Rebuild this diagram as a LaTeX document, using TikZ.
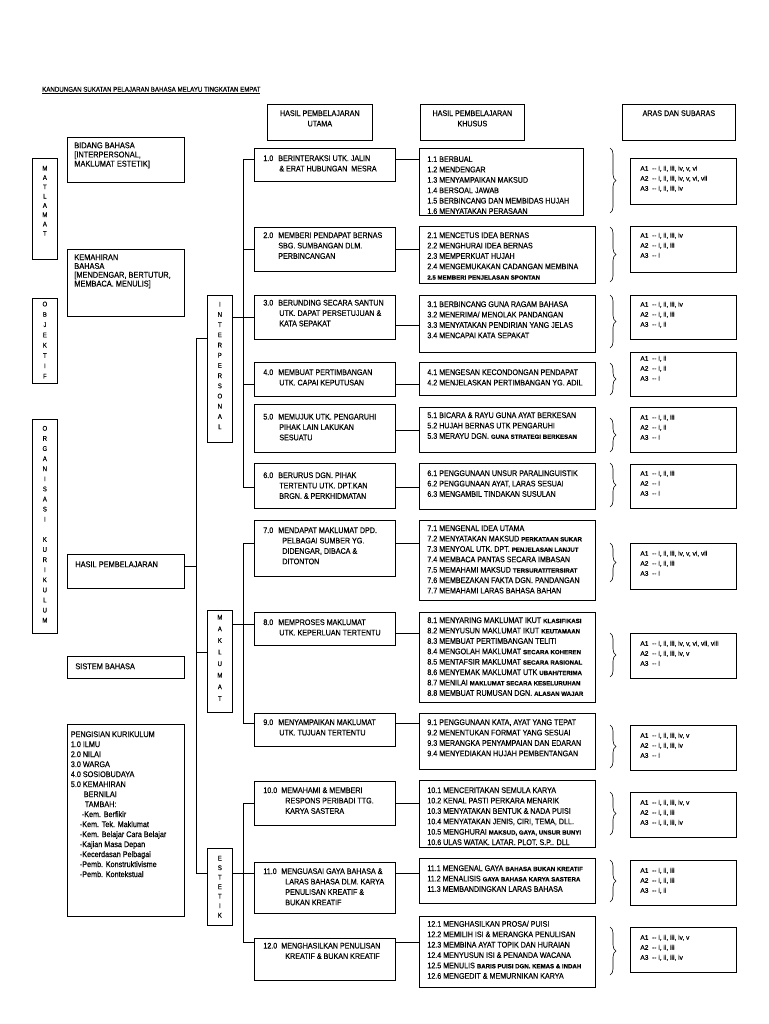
\documentclass[tikz,border=0pt]{standalone}
\usepackage{fontspec}
\setmainfont{Liberation Sans}[FakeStretch=0.88,FakeBold=0.35]
\newfontfamily\arasfont{Liberation Sans}[FakeBold=0.35]
\usetikzlibrary{decorations.pathreplacing}

% top-aligned text block: width, height, left pad, top pad, text
\newcommand{\bx}[5]{\begin{minipage}[t][#2pt][t]{#1pt}\vspace*{#4pt}%
  \raggedright\leftskip=#3pt\relax #5\end{minipage}}
% small heavy words inside the outcome lists
\newcommand{\sm}[1]{{\arasfont\bfseries\fontsize{6.1}{10}\selectfont #1}}
\newcommand{\hpno}[2][15pt]{\makebox[#1][l]{#2}}

\begin{document}
\begin{tikzpicture}[x=1pt,y=-1pt,font=\fontsize{8.1}{10.4}\selectfont,
 box/.style={draw,line width=0.7pt,anchor=north west,inner sep=0pt},
 link/.style={line width=0.7pt},
 curly/.style={decorate,decoration={brace,amplitude=6pt},line width=0.6pt}]
\useasboundingbox (0,0) rectangle (768,1024);

% title and column headers
\node[anchor=south west,inner sep=0pt,font=\fontsize{7}{8}\selectfont] (title) at (42,94)
  {\underline{KANDUNGAN SUKATAN PELAJARAN BAHASA MELAYU TINGKATAN EMPAT}};
\node[box] (hUtama) at (267,104) {\bx{105}{36}{0}{6}{\centering HASIL PEMBELAJARAN\\UTAMA}};
\node[box] (hKhusus) at (420,104) {\bx{104}{36}{0}{6}{\centering HASIL PEMBELAJARAN\\KHUSUS}};
\node[box] (hAras) at (622,104) {\bx{113}{36}{0}{6}{\centering ARAS DAN SUBARAS}};

% left column
\node[box] (vMatlamat) at (32,158) {\bx{25}{101}{0}{7.6}{\centering\fontsize{6.8}{9.3}\selectfont
  M\\A\\T\\L\\A\\M\\A\\T}};
\node[box] (vObjektif) at (32,298) {\bx{25}{85}{0}{3.3}{\centering\fontsize{6.8}{10.3}\selectfont
  O\\B\\J\\E\\K\\T\\I\\F}};
\node[box] (vOrganisasi) at (32,419) {\bx{25}{214}{0}{6.6}{\centering\fontsize{6.8}{10.1}\selectfont
  O\\R\\G\\A\\N\\I\\S\\A\\S\\I\\[10.1pt]K\\U\\R\\I\\K\\U\\L\\U\\M}};

\node[box] (lBidang) at (67,137) {\bx{117}{45}{7}{5}{\fontsize{8.4}{9.2}\selectfont
  BIDANG BAHASA\\{[}INTERPERSONAL,\\MAKLUMAT ESTETIK]}};
\node[box] (lKemahiran) at (67,249) {\bx{117}{67}{7}{5}{\fontsize{8.4}{8.8}\selectfont
  KEMAHIRAN\\BAHASA\\{[}MENDENGAR, BERTUTUR,\\MEMBACA. MENULIS]}};
\node[box] (lHasil) at (67,554) {\bx{117}{34}{8}{7}{\fontsize{8.4}{10}\selectfont HASIL PEMBELAJARAN}};
\node[box] (lSistem) at (67,656) {\bx{117}{22}{8}{7}{\fontsize{8.4}{10}\selectfont SISTEM BAHASA}};
\node[box] (lPengisian) at (67,724) {\bx{117}{192}{3.5}{7}{\fontsize{8.2}{10}\selectfont
  PENGISIAN KURIKULUM\\1.0 ILMU\\2.0 NILAI\\3.0 WARGA\\4.0 SOSIOBUDAYA\\5.0 KEMAHIRAN\\
  \hspace*{13pt}BERNILAI\\\hspace*{14pt}TAMBAH:\\\hspace*{11pt}-Kem. Berfikir\\
  \hspace*{9pt}-Kem. Tek. Maklumat\\\hspace*{9pt}-Kem. Belajar Cara Belajar\\
  \hspace*{9pt}-Kajian Masa Depan\\\hspace*{9pt}-Kecerdasan Pelbagai\\
  \hspace*{9pt}-Pemb. Konstruktivisme\\\hspace*{9pt}-Pemb. Kontekstual}};

% skill groups
\node[box] (gInter) at (207,295) {\bx{25}{147}{0}{6.6}{\centering\fontsize{6.8}{10.2}\selectfont
  I\\N\\T\\E\\R\\P\\E\\R\\S\\O\\N\\A\\L}};
\node[box] (gMaklumat) at (207,610) {\bx{25}{102}{0}{4.6}{\centering\fontsize{6.8}{11.6}\selectfont
  M\\A\\K\\L\\U\\M\\A\\T}};
\node[box] (gEstetik) at (207,848) {\bx{25}{77}{0}{7.6}{\centering\fontsize{6.8}{9.5}\selectfont
  E\\S\\T\\E\\T\\I\\K}};

% hasil pembelajaran utama
\node[box] (u1) at (254,148) {\bx{141}{33}{9}{7}{\hpno{1.0}BERINTERAKSI UTK. JALIN\\
  \hspace*{16pt}\& ERAT HUBUNGAN\ \ MESRA}};
\node[box] (u2) at (254,227) {\bx{141}{44}{9}{5}{\hpno{2.0}MEMBERI PENDAPAT BERNAS\\
  \hspace*{15pt}SBG. SUMBANGAN DLM.\\\hspace*{15pt}PERBINCANGAN}};
\node[box] (u3) at (254,295) {\bx{141}{44}{9}{4.5}{\hpno{3.0}BERUNDING SECARA SANTUN\\
  \hspace*{16pt}UTK. DAPAT PERSETUJUAN \&\\\hspace*{16pt}KATA SEPAKAT}};
\node[box] (u4) at (254,362) {\bx{141}{34}{9}{7}{\hpno{4.0}MEMBUAT PERTIMBANGAN\\
  \hspace*{16pt}UTK. CAPAI KEPUTUSAN}};
\node[box] (u5) at (254,404) {\bx{141}{48}{9}{9.5}{\hpno{5.0}MEMUJUK UTK. PENGARUHI\\
  \hspace*{16pt}PIHAK LAIN LAKUKAN\\\hspace*{16pt}SESUATU}};
\node[box] (u6) at (254,463) {\bx{141}{45}{9}{9}{\hpno{6.0}BERURUS DGN. PIHAK\\
  \hspace*{16pt}TERTENTU UTK. DPT.KAN\\\hspace*{16pt}BRGN. \& PERKHIDMATAN}};
\node[box] (u7) at (254,520) {\bx{141}{56}{9}{7}{\hpno{7.0}MENDAPAT MAKLUMAT DPD.\\
  \hspace*{19pt}PELBAGAI SUMBER YG.\\\hspace*{19pt}DIDENGAR, DIBACA \&\\\hspace*{19pt}DITONTON}};
\node[box] (u8) at (254,612) {\bx{141}{33}{9}{7}{\hpno{8.0}MEMPROSES MAKLUMAT\\
  \hspace*{16pt}UTK. KEPERLUAN TERTENTU}};
\node[box] (u9) at (254,713) {\bx{141}{33}{9}{6}{\hpno{9.0}MENYAMPAIKAN MAKLUMAT\\
  \hspace*{16pt}UTK. TUJUAN TERTENTU}};
\node[box] (u10) at (254,781) {\bx{141}{44}{9}{6}{\hpno[18pt]{10.0}MEMAHAMI \& MEMBERI\\
  \hspace*{22pt}RESPONS PERIBADI TTG.\\\hspace*{22pt}KARYA SASTERA}};
\node[box] (u11) at (254,862) {\bx{141}{51}{9}{6}{\hpno[18pt]{11.0}MENGUASAI GAYA BAHASA \&\\
  \hspace*{22pt}LARAS BAHASA DLM. KARYA\\\hspace*{22pt}PENULISAN KREATIF \&\\
  \hspace*{22pt}BUKAN KREATIF}};
\node[box] (u12) at (254,938) {\bx{141}{42}{9}{4.5}{\hpno[18pt]{12.0}MENGHASILKAN PENULISAN\\
  \hspace*{22pt}KREATIF \& BUKAN KREATIF}};

% hasil pembelajaran khusus
\node[box] (k1) at (419,148) {\bx{164}{67}{8}{8}{1.1 BERBUAL\\1.2 MENDENGAR\\
  1.3 MENYAMPAIKAN MAKSUD\\1.4 BERSOAL JAWAB\\1.5 BERBINCANG DAN MEMBIDAS HUJAH\\
  1.6 MENYATAKAN PERASAAN}};
\node[box] (k2) at (419,226) {\bx{176}{57}{8}{6}{2.1 MENCETUS IDEA BERNAS\\
  2.2 MENGHURAI IDEA BERNAS\\2.3 MEMPERKUAT HUJAH\\2.4 MENGEMUKAKAN CADANGAN MEMBINA\\
  \sm{2.5 MEMBERI PENJELASAN SPONTAN}}};
\node[box] (k3) at (419,295) {\bx{176}{57}{8}{6}{3.1 BERBINCANG GUNA RAGAM BAHASA\\
  3.2 MENERIMA/ MENOLAK PANDANGAN\\3.3 MENYATAKAN PENDIRIAN YANG JELAS\\
  3.4 MENCAPAI KATA SEPAKAT}};
\node[box] (k4) at (419,362) {\bx{176}{33}{8}{7}{4.1 MENGESAN KECONDONGAN PENDAPAT\\
  4.2 MENJELASKAN PERTIMBANGAN YG. ADIL}};
\node[box] (k5) at (419,407) {\bx{176}{45}{8}{5}{5.1 BICARA \& RAYU GUNA AYAT BERKESAN\\
  5.2 HUJAH BERNAS UTK PENGARUHI\\5.3 MERAYU DGN. \sm{GUNA STRATEGI BERKESAN}}};
\node[box] (k6) at (419,463) {\bx{176}{46}{8}{7}{6.1 PENGGUNAAN UNSUR PARALINGUISTIK\\
  6.2 PENGGUNAAN AYAT, LARAS SESUAI\\6.3 MENGAMBIL TINDAKAN SUSULAN}};
\node[box] (k7) at (419,520) {\bx{176}{80}{8}{5}{7.1 MENGENAL IDEA UTAMA\\
  7.2 MENYATAKAN MAKSUD \sm{PERKATAAN SUKAR}\\7.3 MENYOAL UTK. DPT. \sm{PENJELASAN LANJUT}\\
  7.4 MEMBACA PANTAS SECARA IMBASAN\\7.5 MEMAHAMI MAKSUD \sm{TERSURAT/TERSIRAT}\\
  7.6 MEMBEZAKAN FAKTA DGN. PANDANGAN\\7.7 MEMAHAMI LARAS BAHASA BAHAN}};
\node[box] (k8) at (419,612) {\bx{176}{90}{8}{5}{8.1 MENYARING MAKLUMAT IKUT \sm{KLASIFIKASI}\\
  8.2 MENYUSUN MAKLUMAT IKUT \sm{KEUTAMAAN}\\8.3 MEMBUAT PERTIMBANGAN TELITI\\
  8.4 MENGOLAH MAKLUMAT \sm{SECARA KOHEREN}\\8.5 MENTAFSIR MAKLUMAT \sm{SECARA RASIONAL}\\
  8.6 MENYEMAK MAKLUMAT UTK \sm{UBAH/TERIMA}\\8.7 MENILAI \sm{MAKLUMAT SECARA KESELURUHAN}\\
  8.8 MEMBUAT RUMUSAN DGN. \sm{ALASAN WAJAR}}};
\node[box] (k9) at (419,713) {\bx{176}{56}{8}{6}{9.1 PENGGUNAAN KATA, AYAT YANG TEPAT\\
  9.2 MENENTUKAN FORMAT YANG SESUAI\\9.3 MERANGKA PENYAMPAIAN DAN EDARAN\\
  9.4 MENYEDIAKAN HUJAH PEMBENTANGAN}};
\node[box] (k10) at (419,780) {\bx{176}{67}{8}{7}{10.1 MENCERITAKAN SEMULA KARYA\\
  10.2 KENAL PASTI PERKARA MENARIK\\10.3 MENYATAKAN BENTUK \& NADA PUISI\\
  10.4 MENYATAKAN JENIS, CIRI, TEMA, DLL.\\10.5 MENGHURAI \sm{MAKSUD, GAYA, UNSUR BUNYI}\\
  10.6 ULAS WATAK. LATAR. PLOT. S.P.. DLL}};
\node[box] (k11) at (419,858) {\bx{176}{45}{8}{7}{11.1 MENGENAL GAYA \sm{BAHASA BUKAN KREATIF}\\
  11.2 MENALISIS \sm{GAYA BAHASA KARYA SASTERA}\\11.3 MEMBANDINGKAN LARAS BAHASA}};
\node[box] (k12) at (419,916) {\bx{176}{71}{8}{4.5}{12.1 MENGHASILKAN PROSA/ PUISI\\
  12.2 MEMILIH ISI \& MERANGKA PENULISAN\\12.3 MEMBINA AYAT TOPIK DAN HURAIAN\\
  12.4 MENYUSUN ISI \& PENANDA WACANA\\12.5 MENULIS \sm{BARIS PUISI DGN. KEMAS \& INDAH}\\
  12.6 MENGEDIT \& MEMURNIKAN KARYA}};

% aras dan subaras
\foreach \n/\y/\h/\p/\A/\B/\C in {
  1/158/46/7.6/{i, ii, iii, iv, v, vi}/{i, ii, iii, iv, v, vi, vii}/{i, ii, iii, iv},
  2/226/46/6.6/{i, ii, iii, iv}/{i, ii, iii}/{i},
  3/295/44/6.6/{i, ii, iii, iv}/{i, ii, iii}/{i, ii},
  4/352/44/3.6/{i, ii}/{i, ii}/{i},
  5/407/45/7.6/{i, ii, iii}/{i, ii}/{i},
  6/464/44/6.6/{i, ii, iii}/{i}/{i},
  7/543/46/7.6/{i, ii, iii, iv, v, vi, vii}/{i, ii, iii}/{i},
  8/633/45/7.6/{i, ii, iii, iv, v, vi, vii, viii}/{i, ii, iii, iv, v}/{i},
  9/725/45/7.6/{i, ii, iii, iv, v}/{i, ii, iii, iv}/{i},
  10/792/45/7.6/{i, ii, iii, iv, v}/{i, ii, iii}/{i, ii, iii, iv},
  11/860/45/7.6/{i, ii, iii}/{i, ii, iii}/{i, ii},
  12/927/45/7.6/{i, ii, iii, iv, v}/{i, ii, iii}/{i, ii, iii, iv}}
  \node[box] (a\n) at (630,\y) {\bx{106}{\h}{10}{\p}{\arasfont\fontsize{6.6}{10}\selectfont
    A1\ \ -- \A\\A2\ \ -- \B\\A3\ \ -- \C}};

% braces in front of the levels
\foreach \t/\b in {148/213,227/282,295/348,363/395,418/452,463/507,
  543/582,633/677,725/768,792/835,860/902,927/975}
  \draw[curly] (610,\t) -- (610,\b);

% main trunk to the three groups
\coordinate (tInter) at (196,338);
\coordinate (tHasil) at (196,566);
\coordinate (tMak) at (196,652);
\coordinate (tEst) at (196,873);
\draw[link] (tInter) -- (tEst);
\draw[link] (lHasil.east |- tHasil) -- (tHasil);
\draw[link] (tInter) -- (tInter -| gInter.west);
\draw[link] (tMak) -- (tMak -| gMaklumat.west);
\draw[link] (tEst) -- (tEst -| gEstetik.west);

% group branches
\draw[link] (243,159) -- (243,487);
\draw[link] (243,543) -- (243,723);
\draw[link] (243,803) -- (243,942);
\foreach \n/\y in {1/159,2/249,3/317,4/384,6/487,7/543,8/624,9/723,10/803,11/873,12/942}{
  \coordinate (r) at (243,\y);
  \draw[link] (r) -- (r -| u\n.west);
}
\coordinate (rI) at (243,317);
\coordinate (rM) at (243,624);
\coordinate (rE) at (243,873);
\draw[link] (rI -| gInter.east) -- (rI);
\draw[link] (rM -| gMaklumat.east) -- (rM);
\draw[link] (rE -| gEstetik.east) -- (rE);

% utama to khusus
\foreach \n/\y in {1/159,2/249,3/325,4/384,5/430,6/487,7/543,8/633,9/723,10/803,11/873,12/942}{
  \coordinate (s) at (0,\y);
  \draw[link] (s -| u\n.east) -- (s -| k\n.west);
}
\end{tikzpicture}
\end{document}
